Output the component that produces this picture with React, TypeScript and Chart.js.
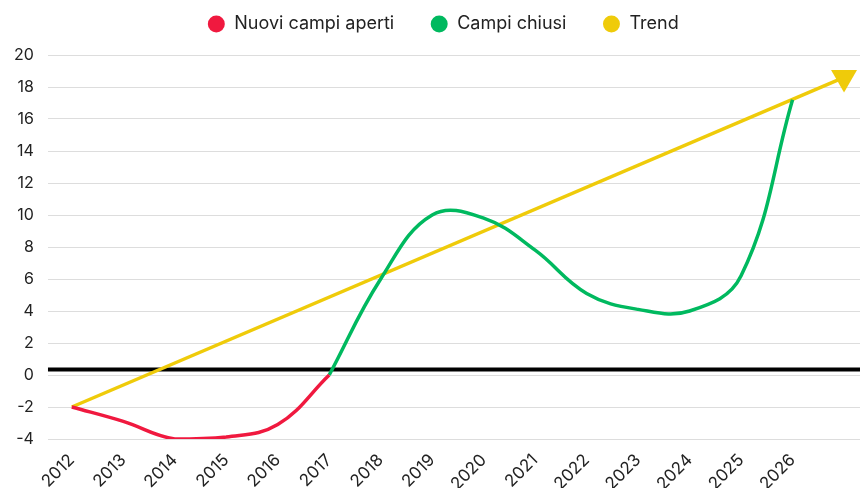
import { useEffect, useRef } from 'react';
import { Chart, registerables } from 'chart.js';
Chart.register(...registerables);

const tickYears = [2012, 2013, 2014, 2015, 2016, 2017, 2018, 2019, 2020, 2021, 2022, 2023, 2024, 2025, 2026];
const openYears = [2012, 2013, 2014, 2015, 2016, 2017];
const openValues = [-2, -2.9, -4, -3.87, -3.1, 0];
const closedYears = [2017, 2018, 2019, 2020, 2021, 2022, 2023, 2024, 2025, 2026];
const closedValues = [0, 6, 10, 9.8, 7.8, 5.1, 4.1, 4.0, 6.2, 17.2];
const trendYears = [2012, 2027];
const trendValues = [-2, 18.6];
const baselineValue = 0.35;
const xMin = 2011.535;
const xMax = 2027.31;
const yTickValues = [-4, -2, 0, 2, 4, 6, 8, 10, 12, 14, 16, 18, 20];

const RED = '#F0193F';
const GREEN = '#00B95F';
const YELLOW = '#EFCB0A';
const FONT = 'Inter';

const legendTweak = {
  id: 'legendTweak',
  beforeInit(chart: any) {
    const legend = chart.legend;
    if (!legend) return;
    const origFit = legend.fit;
    legend.fit = function () {
      origFit.call(this);
      this.height -= 9;
    };
  },
  beforeDraw(chart: any) {
    const lg = chart.legend;
    if (!lg || lg._tweaked) return;
    lg._tweaked = true;
    lg.left += 13;
    lg.right += 13;
    lg.top -= 21;
    lg.bottom -= 21;
  },
};

export default function App() {
  const ref = useRef<HTMLCanvasElement>(null);
  useEffect(() => {
    document.body.style.margin = '0';
    const ctx = ref.current!;
    const pts = (xs: number[], ys: number[]) => xs.map((x, i) => ({ x, y: ys[i] }));
    const chart = new Chart(ctx, {
      type: 'line',
      data: {
        datasets: [
          {
            label: 'Nuovi campi aperti',
            data: pts(openYears, openValues),
            borderColor: RED,
            backgroundColor: RED,
            borderWidth: 3.5,
            tension: 0.4,
            pointRadius: 0,
          },
          {
            label: 'Campi chiusi',
            data: pts(closedYears, closedValues),
            borderColor: GREEN,
            backgroundColor: GREEN,
            borderWidth: 3.5,
            tension: 0.4,
            pointRadius: 0,
          },
          {
            label: 'Trend',
            data: pts(trendYears, trendValues),
            borderColor: YELLOW,
            backgroundColor: YELLOW,
            borderWidth: 3.5,
            tension: 0,
            pointRadius: [0, 15],
            pointHoverRadius: [0, 15],
            pointStyle: 'triangle',
            pointRotation: [0, 180],
            pointBorderWidth: 0,
            pointBackgroundColor: YELLOW,
          },
          {
            label: 'baseline',
            data: pts([xMin, xMax], [baselineValue, baselineValue]),
            borderColor: '#000000',
            backgroundColor: '#000000',
            borderWidth: 4,
            pointRadius: 0,
          },
        ],
      },
      plugins: [legendTweak],
      options: {
        animation: false,
        responsive: false,
        layout: { autoPadding: false, padding: { top: 0, right: 0, bottom: 0, left: 0 } },
        plugins: {
          tooltip: { enabled: false },
          legend: {
            position: 'top',
            labels: {
              usePointStyle: true,
              boxHeight: 12,
              padding: 36,
              color: '#222',
              font: { family: FONT, size: 18 },
              generateLabels: (c: any) => {
                const items = Chart.defaults.plugins.legend.labels.generateLabels(c);
                return items
                  .filter((it: any) => it.text !== 'baseline')
                  .map((it: any) => ({ ...it, pointStyle: 'circle', lineWidth: 0, rotation: 0 }));
              },
            },
          },
        },
        scales: {
          x: {
            type: 'linear',
            min: xMin,
            max: xMax,
            grid: { display: false },
            border: { display: false },
            afterBuildTicks: (axis: any) => {
              axis.ticks = tickYears.map((v) => ({ value: v }));
            },
            afterFit: (axis: any) => {
              axis.paddingRight = 0;
              axis.height = 49;
            },
            ticks: {
              minRotation: 45,
              maxRotation: 45,
              autoSkip: false,
              color: '#222',
              font: { family: FONT, size: 17 },
              callback: (v: any) => String(v),
            },
          },
          y: {
            min: -4,
            max: 20,
            afterBuildTicks: (axis: any) => {
              axis.ticks = yTickValues.map((v) => ({ value: v }));
            },
            grid: { color: '#dddddd', lineWidth: 1, drawTicks: false },
            border: { display: false },
            ticks: {
              padding: 14,
              color: '#222',
              font: { family: FONT, size: 16 },
            },
          },
        },
      },
    });
    return () => chart.destroy();
  }, []);
  return <canvas ref={ref} width={860} height={488} />;
}
